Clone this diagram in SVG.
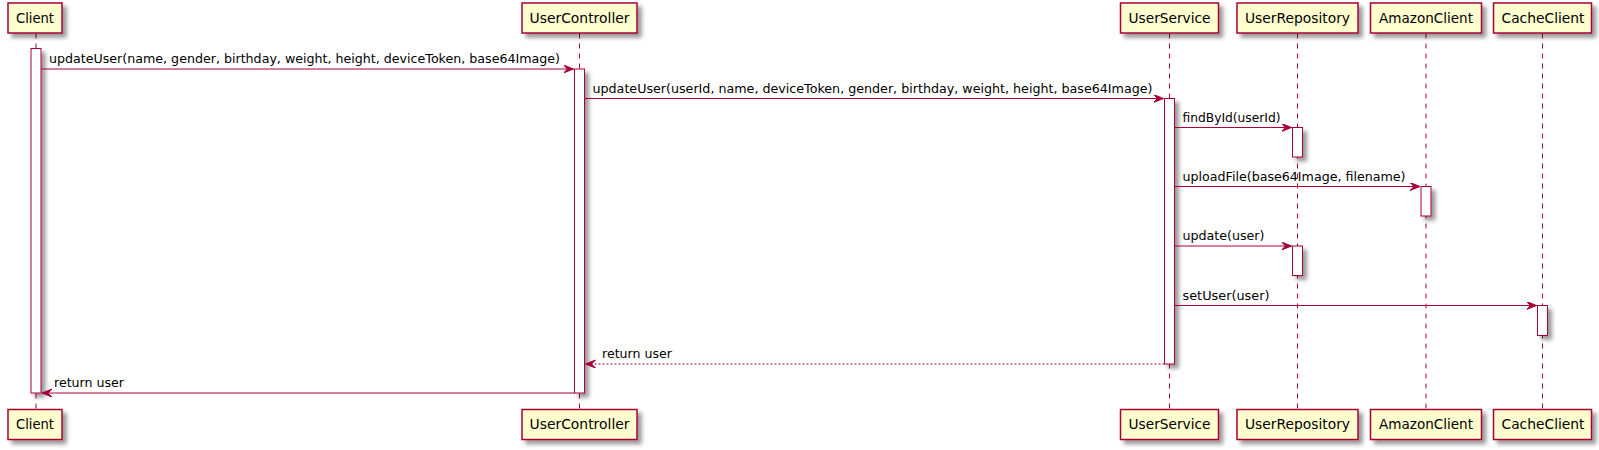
<svg xmlns="http://www.w3.org/2000/svg" width="1599" height="450" viewBox="0 0 1599 450">
<style>
.box{fill:#FEFECE;stroke:#A80036;stroke-width:1.5}
.life{stroke:#A80036;stroke-width:1;stroke-dasharray:5,5;fill:none}
.act{fill:#FFFFFF;stroke:#A80036;stroke-width:1}
.msg{stroke:#A80036;stroke-width:1;fill:none;marker-end:url(#ah)}
.ret{stroke:#A80036;stroke-width:1;fill:none;stroke-dasharray:2,2;marker-end:url(#ah)}
.pt{font-family:"DejaVu Sans",sans-serif;font-size:14px;fill:#000000}
.mt{font-family:"DejaVu Sans",sans-serif;font-size:13px;fill:#000000}
</style>
<defs>
<filter id="sh" x="-1" y="-1" width="300%" height="300%">
<feGaussianBlur result="b1" stdDeviation="2"/>
<feColorMatrix type="matrix" in="b1" result="b2" values="0 0 0 0 0 0 0 0 0 0 0 0 0 0 0 0 0 0 .4 0"/>
<feOffset result="b3" in="b2" dx="4" dy="4"/>
<feBlend in="SourceGraphic" in2="b3" mode="normal"/>
</filter>
<marker id="ah" markerUnits="userSpaceOnUse" markerWidth="12" markerHeight="10" refX="10" refY="4" orient="auto" viewBox="0 0 12 10">
<path d="M0,0 L10,4 L0,8 L4,4 Z" fill="#A80036" stroke="#A80036" stroke-width="1" stroke-dasharray="none"/>
</marker>
</defs>
<rect width="1599" height="450" fill="#FFFFFF"/>
<g id="lifelines">
<line class="life" x1="36" y1="33.5" x2="36" y2="409.5"/>
<line class="life" x1="579.5" y1="33.5" x2="579.5" y2="409.5"/>
<line class="life" x1="1169.5" y1="33.5" x2="1169.5" y2="409.5"/>
<line class="life" x1="1297.5" y1="33.5" x2="1297.5" y2="409.5"/>
<line class="life" x1="1426" y1="33.5" x2="1426" y2="409.5"/>
<line class="life" x1="1542.5" y1="33.5" x2="1542.5" y2="409.5"/>
</g>
<g id="activations">
<rect class="act" filter="url(#sh)" x="31" y="48.5" width="10" height="344.5"/>
<rect class="act" filter="url(#sh)" x="574.5" y="69" width="10" height="324"/>
<rect class="act" filter="url(#sh)" x="1164.5" y="98.5" width="10" height="265.5"/>
<rect class="act" filter="url(#sh)" x="1292.5" y="127.5" width="10" height="29.5"/>
<rect class="act" filter="url(#sh)" x="1421" y="186.5" width="10" height="29.5"/>
<rect class="act" filter="url(#sh)" x="1292.5" y="246" width="10" height="29.5"/>
<rect class="act" filter="url(#sh)" x="1537.5" y="305.5" width="10" height="30"/>
</g>
<g id="Client">
<rect class="box" filter="url(#sh)" x="8" y="3" width="54" height="30"/>
<text class="pt" x="16" y="22.5" textLength="38" lengthAdjust="spacingAndGlyphs">Client</text>
<rect class="box" filter="url(#sh)" x="8" y="409.5" width="54" height="30"/>
<text class="pt" x="16" y="429" textLength="38" lengthAdjust="spacingAndGlyphs">Client</text>
</g>
<g id="UserController">
<rect class="box" filter="url(#sh)" x="522" y="3" width="115" height="30"/>
<text class="pt" x="529.5" y="22.5" textLength="100" lengthAdjust="spacingAndGlyphs">UserController</text>
<rect class="box" filter="url(#sh)" x="522" y="409.5" width="115" height="30"/>
<text class="pt" x="529.5" y="429" textLength="100" lengthAdjust="spacingAndGlyphs">UserController</text>
</g>
<g id="UserService">
<rect class="box" filter="url(#sh)" x="1120.5" y="3" width="98" height="30"/>
<text class="pt" x="1128.5" y="22.5" textLength="82" lengthAdjust="spacingAndGlyphs">UserService</text>
<rect class="box" filter="url(#sh)" x="1120.5" y="409.5" width="98" height="30"/>
<text class="pt" x="1128.5" y="429" textLength="82" lengthAdjust="spacingAndGlyphs">UserService</text>
</g>
<g id="UserRepository">
<rect class="box" filter="url(#sh)" x="1237" y="3" width="121" height="30"/>
<text class="pt" x="1245" y="22.5" textLength="105" lengthAdjust="spacingAndGlyphs">UserRepository</text>
<rect class="box" filter="url(#sh)" x="1237" y="409.5" width="121" height="30"/>
<text class="pt" x="1245" y="429" textLength="105" lengthAdjust="spacingAndGlyphs">UserRepository</text>
</g>
<g id="AmazonClient">
<rect class="box" filter="url(#sh)" x="1370.5" y="3" width="111" height="30"/>
<text class="pt" x="1379" y="22.5" textLength="94" lengthAdjust="spacingAndGlyphs">AmazonClient</text>
<rect class="box" filter="url(#sh)" x="1370.5" y="409.5" width="111" height="30"/>
<text class="pt" x="1379" y="429" textLength="94" lengthAdjust="spacingAndGlyphs">AmazonClient</text>
</g>
<g id="CacheClient">
<rect class="box" filter="url(#sh)" x="1493.5" y="3" width="98" height="30"/>
<text class="pt" x="1501.5" y="22.5" textLength="83" lengthAdjust="spacingAndGlyphs">CacheClient</text>
<rect class="box" filter="url(#sh)" x="1493.5" y="409.5" width="98" height="30"/>
<text class="pt" x="1501.5" y="429" textLength="83" lengthAdjust="spacingAndGlyphs">CacheClient</text>
</g>
<g id="connectors">
<line class="msg" x1="41" y1="69" x2="573.5" y2="69"/>
<text class="mt" x="49" y="63" textLength="511" lengthAdjust="spacingAndGlyphs">updateUser(name, gender, birthday, weight, height, deviceToken, base64Image)</text>
<line class="msg" x1="584.5" y1="98.5" x2="1163.5" y2="98.5"/>
<text class="mt" x="592.5" y="92.5" textLength="560" lengthAdjust="spacingAndGlyphs">updateUser(userId, name, deviceToken, gender, birthday, weight, height, base64Image)</text>
<line class="msg" x1="1174.5" y1="127.5" x2="1291.5" y2="127.5"/>
<text class="mt" x="1182.5" y="121.5" textLength="98" lengthAdjust="spacingAndGlyphs">findById(userId)</text>
<line class="msg" x1="1174.5" y1="186.5" x2="1420" y2="186.5"/>
<text class="mt" x="1182.5" y="180.5" textLength="223" lengthAdjust="spacingAndGlyphs">uploadFile(base64Image, filename)</text>
<line class="msg" x1="1174.5" y1="246" x2="1291.5" y2="246"/>
<text class="mt" x="1182.5" y="240" textLength="82" lengthAdjust="spacingAndGlyphs">update(user)</text>
<line class="msg" x1="1174.5" y1="305.5" x2="1536.5" y2="305.5"/>
<text class="mt" x="1182.5" y="299.5" textLength="87" lengthAdjust="spacingAndGlyphs">setUser(user)</text>
<line class="ret" x1="1164.5" y1="364" x2="585.5" y2="364"/>
<text class="mt" x="602" y="358" textLength="70" lengthAdjust="spacingAndGlyphs">return user</text>
<line class="msg" x1="574.5" y1="393" x2="42" y2="393"/>
<text class="mt" x="54" y="387" textLength="70" lengthAdjust="spacingAndGlyphs">return user</text>
</g>
</svg>
